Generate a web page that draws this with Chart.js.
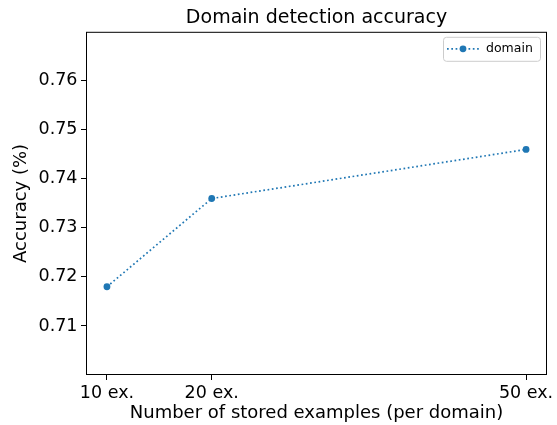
<!DOCTYPE html>
<html>
<head>
<meta charset="utf-8">
<script src="https://cdn.jsdelivr.net/npm/chart.js@4/dist/chart.umd.min.js"></script>
<style>
  html, body { margin: 0; padding: 0; background: #fff; }
  #chart { display: block; }
</style>
</head>
<body>
<canvas id="chart" width="557" height="425"></canvas>
<script>
(function () {
  'use strict';

  // Data.
  const storedExamples = [10, 20, 50];
  const accuracy = [0.718, 0.736, 0.746];
  const xTickValues = [10, 20, 50];
  const xTickLabels = ['10 ex.', '20 ex.', '50 ex.'];
  const yTickValues = [0.71, 0.72, 0.73, 0.74, 0.75, 0.76];
  const seriesLabel = 'domain';

  const blue = '#1f77b4';
  const fontFamily = "'DejaVu Sans', sans-serif";

  Chart.defaults.font.family = fontFamily;
  Chart.defaults.color = '#000';

  // Box around the plot area (all four spines).
  const frame = {
    id: 'frame',
    beforeDatasetsDraw: function (chart) {
      const a = chart.chartArea;
      const ctx = chart.ctx;
      ctx.save();
      ctx.strokeStyle = '#000';
      ctx.lineWidth = 1;
      ctx.strokeRect(a.left + 0.5, a.top + 0.5, a.right - a.left - 1, a.bottom - a.top - 1);
      ctx.restore();
    },
  };

  // Matplotlib style legend in the upper right corner.
  const cornerLegend = {
    id: 'cornerLegend',
    afterDraw: function (chart) {
      const a = chart.chartArea;
      const ctx = chart.ctx;
      const ds = chart.data.datasets[0];
      const boxW = 97;
      const boxH = 24;
      const x = a.right - 7 - boxW;
      const y = a.top + 5;
      const midY = y + boxH / 2;

      ctx.save();
      ctx.fillStyle = 'rgba(255,255,255,0.8)';
      ctx.strokeStyle = '#cccccc';
      ctx.lineWidth = 1;
      ctx.beginPath();
      ctx.roundRect(x + 0.5, y + 0.5, boxW, boxH, 3);
      ctx.fill();
      ctx.stroke();

      ctx.strokeStyle = ds.borderColor;
      ctx.lineWidth = ds.borderWidth;
      ctx.setLineDash(ds.borderDash);
      ctx.beginPath();
      ctx.moveTo(x + 4, midY);
      ctx.lineTo(x + 36, midY);
      ctx.stroke();
      ctx.setLineDash([]);

      ctx.fillStyle = ds.pointBackgroundColor;
      ctx.beginPath();
      ctx.arc(x + 20, midY, ds.pointRadius, 0, Math.PI * 2);
      ctx.fill();

      ctx.fillStyle = '#000';
      ctx.font = '12.5px ' + fontFamily;
      ctx.textBaseline = 'middle';
      ctx.textAlign = 'left';
      ctx.fillText(ds.label, x + 43, midY);
      ctx.restore();
    },
  };

  const ctx = document.getElementById('chart').getContext('2d');

  new Chart(ctx, {
    type: 'line',
    data: {
      datasets: [{
        label: seriesLabel,
        data: storedExamples.map(function (v, i) { return { x: v, y: accuracy[i] }; }),
        borderColor: blue,
        borderWidth: 1.7,
        borderDash: [1.7, 2.6],
        pointRadius: 3.4,
        pointBackgroundColor: blue,
        pointBorderWidth: 0,
        fill: false,
        tension: 0,
      }],
    },
    options: {
      responsive: false,
      devicePixelRatio: 1,
      animation: false,
      layout: {
        padding: { left: 0, right: 10, top: 0, bottom: 0 },
      },
      plugins: {
        legend: { display: false },
        tooltip: { enabled: false },
        title: {
          display: true,
          text: 'Domain detection accuracy',
          fullSize: false,
          color: '#000',
          font: { size: 19, weight: 'normal', lineHeight: 1.2 },
          padding: { top: 7, bottom: 2 },
        },
      },
      scales: {
        x: {
          type: 'linear',
          min: 8,
          max: 52,
          border: { display: false },
          grid: {
            drawOnChartArea: false,
            drawTicks: true,
            tickLength: 5,
            tickColor: '#000',
            lineWidth: 1,
          },
          afterBuildTicks: function (scale) {
            scale.ticks = xTickValues.map(function (v) { return { value: v }; });
          },
          afterFit: function (scale) {
            scale.height = 50;
            scale.paddingLeft = 0;
            scale.paddingRight = 0;
          },
          ticks: {
            padding: 2.5,
            maxRotation: 0,
            font: { size: 17.5, lineHeight: 1.2 },
            color: '#000',
            callback: function (value) {
              const i = xTickValues.indexOf(value);
              return i >= 0 ? xTickLabels[i] : '';
            },
          },
          title: {
            display: true,
            text: 'Number of stored examples (per domain)',
            color: '#000',
            font: { size: 18, lineHeight: 1.2 },
            padding: { top: 0, bottom: 0.5 },
          },
        },
        y: {
          min: 0.7,
          max: 0.77,
          border: { display: false },
          grid: {
            drawOnChartArea: false,
            drawTicks: true,
            tickLength: 5,
            tickColor: '#000',
            lineWidth: 1,
          },
          afterBuildTicks: function (scale) {
            scale.ticks = yTickValues.map(function (v) { return { value: v }; });
          },
          afterFit: function (scale) {
            scale.width = 86;
            scale.paddingTop = 0;
            scale.paddingBottom = 0;
          },
          ticks: {
            padding: 3.5,
            font: { size: 17.5, lineHeight: 1.2 },
            color: '#000',
            callback: function (value) {
              return value.toFixed(2);
            },
          },
          title: {
            display: true,
            text: 'Accuracy (%)',
            color: '#000',
            font: { size: 18, lineHeight: 1.2 },
            padding: { top: 11, bottom: 0 },
          },
        },
      },
    },
    plugins: [frame, cornerLegend],
  });
})();
</script>
</body>
</html>
